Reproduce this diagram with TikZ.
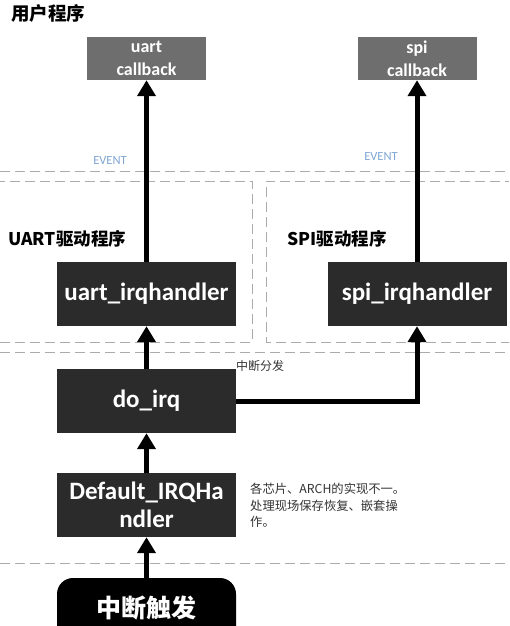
\documentclass[tikz,border=0pt]{standalone}
\usepackage{fontspec}
\setmainfont{Carlito}
\newfontfamily\cjk{Noto Sans CJK SC}
\usetikzlibrary{arrows.meta}
\definecolor{darkbox}{HTML}{2B2B2B}
\definecolor{graybox}{HTML}{6E6E6E}
\definecolor{dashgray}{HTML}{ABABAB}
\definecolor{eventblue}{HTML}{7FA6D4}
\tikzset{
  darkbox/.style={fill=darkbox, text=white, font=\fontsize{25}{28}\selectfont\bfseries, minimum width=179pt, minimum height=64pt, inner sep=0pt, align=center},
  cbbox/.style={fill=graybox, text=white, font=\fontsize{18}{23}\selectfont\bfseries, minimum width=119pt, minimum height=43pt, inner sep=0pt, align=center},
  flow/.style={line width=5pt, -{Triangle[width=18pt,length=16pt]}},
  sep/.style={dashgray, line width=1pt, dash pattern=on 10pt off 5pt},
  layer/.style={font=\cjk\fontsize{17.5}{19}\selectfont\bfseries, anchor=west, inner sep=0pt},
  note/.style={font=\cjk\fontsize{12.3}{16.5}\selectfont, anchor=north west, inner sep=0pt, align=left, text=black!80},
  event/.style={font=\fontsize{12.5}{13}\selectfont, text=eventblue, inner sep=0pt}
}
\begin{document}
\begin{tikzpicture}[x=1pt,y=-1pt]
\useasboundingbox (0,0) rectangle (509,626);
\clip (0,0) rectangle (509,626);
% separators
\draw[sep] (0,171) -- (509,171);
\draw[sep] (-5,181) -- (252,181) -- (252,342) -- (-5,342);
\draw[sep] (515,181) -- (266,181) -- (266,342) -- (515,342);
\draw[sep] (0,352) -- (509,352);
\draw[sep] (0,563) -- (509,563);
% titles
\node[layer, font=\cjk\fontsize{18.5}{20}\selectfont\bfseries] (t1) at (11,13) {用户程序};
\node[layer] (t2) at (8,239) {UART驱动程序};
\node[layer] (t3) at (287,239) {SPI驱动程序};
% boxes
\node[cbbox] (ucb) at (146.5,58.5) {uart\\callback};
\node[cbbox] (scb) at (417,58.5) {spi\\callback};
\node[darkbox] (uirq) at (146.5,294) {uart\_irqhandler};
\node[darkbox] (sirq) at (417,294) {spi\_irqhandler};
\node[darkbox] (doirq) at (146.5,401) {do\_irq};
\node[darkbox, font=\fontsize{25}{28}\selectfont\bfseries] (def) at (146.5,505) {Default\_IRQHa\\ndler};
\node[fill=black, text=white, rounded corners=16pt, minimum width=179pt, minimum height=80pt, inner sep=0pt] (trig) at (146.5,618) {};
\node[text=white, font=\cjk\fontsize{25}{28}\selectfont\bfseries, inner sep=0pt] (trigtext) at (146.5,608) {中断触发};
% labels
\node[event] (ev1) at (110,160) {EVENT};
\node[event] (ev2) at (381,156) {EVENT};
\node[note, font=\cjk\fontsize{12}{13}\selectfont] (dist) at (236,360) {中断分发};
\node[note] (arch) at (250,483) {各芯片、ARCH的实现不一。\\处理现场保存恢复、嵌套操\\作。};
% arrows
\draw[flow] (uirq.north) -- (ucb.south);
\draw[flow] (sirq.north) -- (scb.south);
\draw[flow] (doirq.north) -- (uirq.south);
\draw[flow] (doirq.east) -| (sirq.south);
\draw[flow] (def.north) -- (doirq.south);
\draw[flow] (trig.north) -- (def.south);
\end{tikzpicture}
\end{document}
